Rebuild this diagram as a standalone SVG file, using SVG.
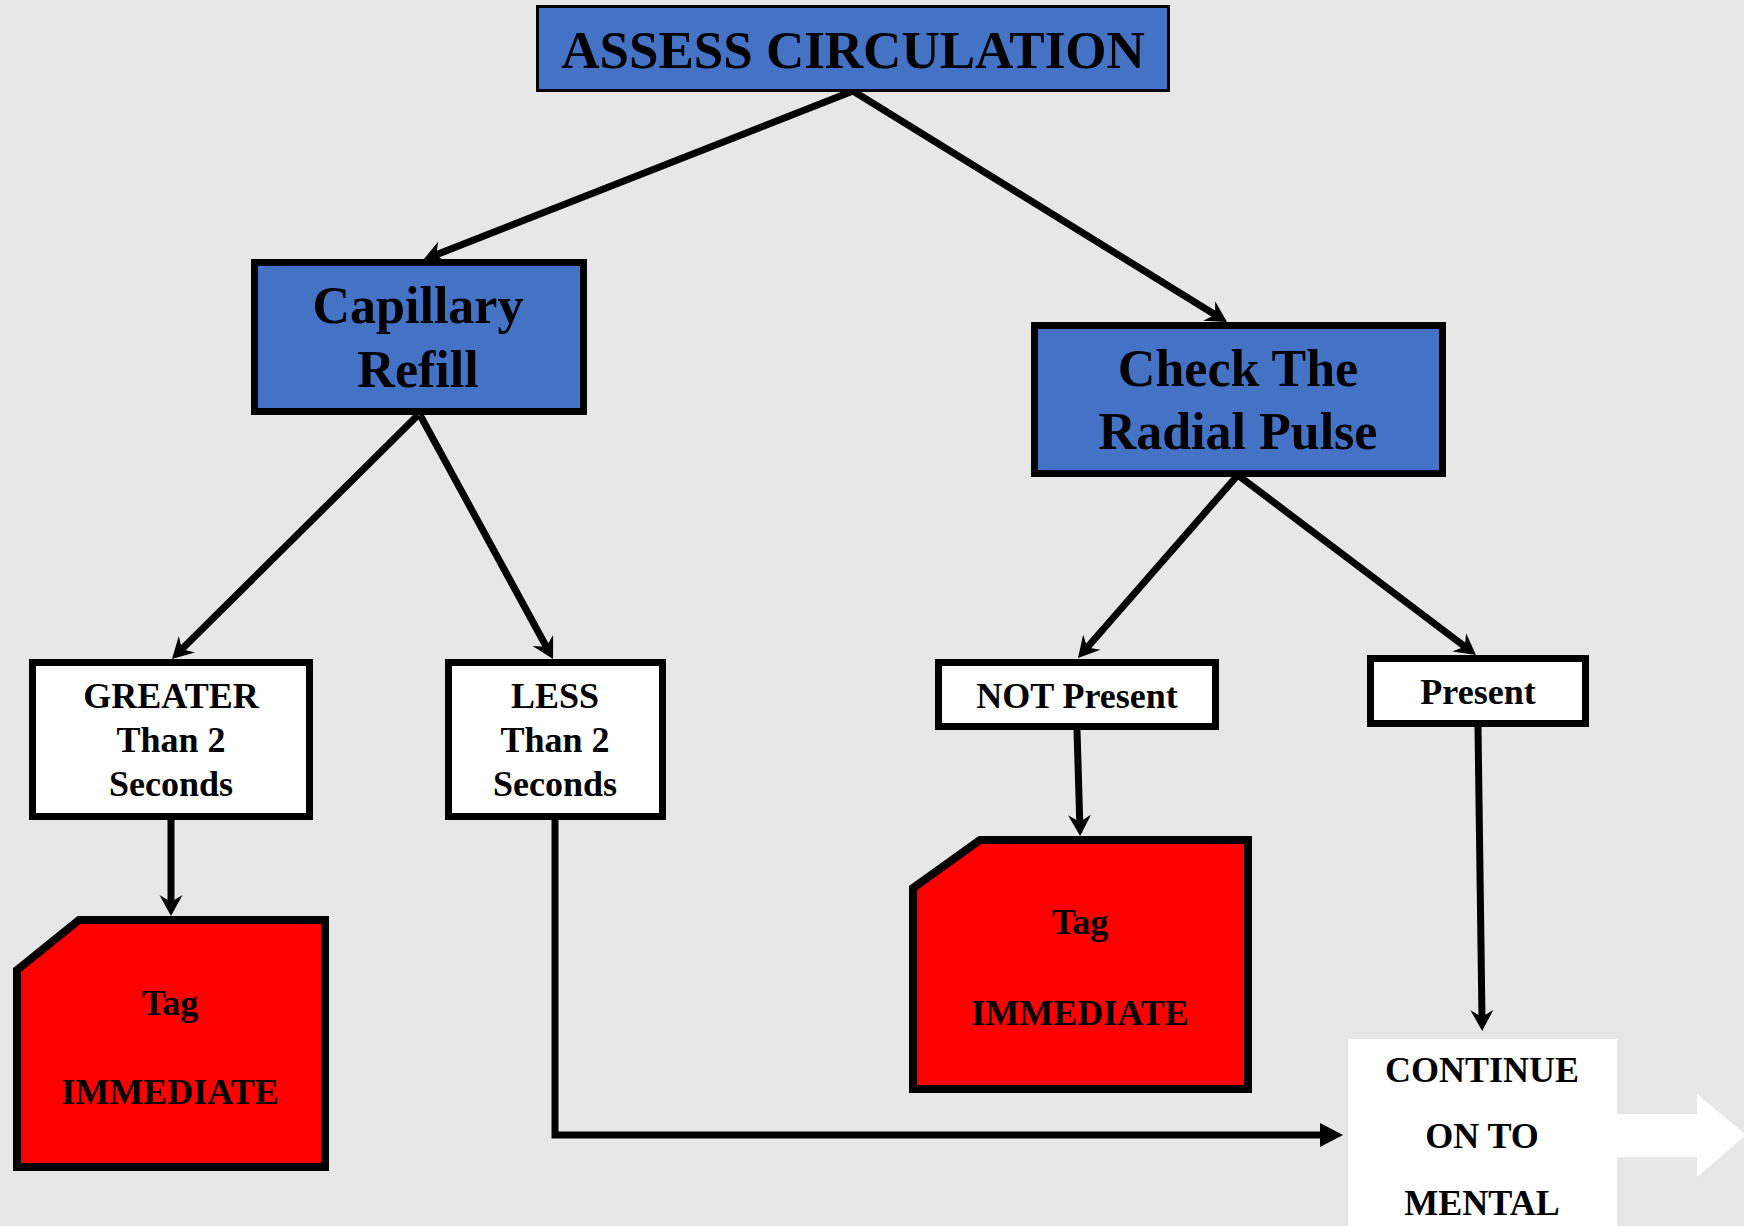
<svg xmlns="http://www.w3.org/2000/svg" width="1744" height="1226" viewBox="0 0 1744 1226">
<style>
.bg{fill:#E7E7E7}
.blue{fill:#4472C4;stroke:#000}
.white{fill:#FFFFFF;stroke:#000;stroke-width:7}
.red{fill:#FF0000;stroke:#000;stroke-width:8;stroke-linejoin:miter}
.t{font-family:"Liberation Serif","Times New Roman",serif;font-weight:bold;fill:#000;text-anchor:middle}
.big{font-size:52px}
.title{font-size:53px}
.sm{font-size:36px}
.conn{fill:none;stroke:#000;stroke-width:7}
</style>
<defs>
<marker id="stealth" markerUnits="userSpaceOnUse" viewBox="0 -12 22 24" markerWidth="22" markerHeight="24" refX="9" refY="0" orient="auto">
<path d="M21,0 L0,-11.5 L7,0 L0,11.5 Z" fill="#000"/>
</marker>
<marker id="tri" markerUnits="userSpaceOnUse" viewBox="0 -13 24 26" markerWidth="24" markerHeight="26" refX="5" refY="0" orient="auto">
<path d="M23,0 L0,-12 L0,12 Z" fill="#000"/>
</marker>
</defs>
<rect class="bg" x="0" y="0" width="1744" height="1226"/>

<g id="connectors">
<path class="conn" d="M853,91 L434.2,255.6" marker-end="url(#stealth)"/>
<path class="conn" d="M853,91 L1216.8,315.7" marker-end="url(#stealth)"/>
<path class="conn" d="M418,415 L180.5,650.6" marker-end="url(#stealth)"/>
<path class="conn" d="M420,415 L547.3,648.5" marker-end="url(#stealth)"/>
<path class="conn" d="M1237,476 L1085.9,649" marker-end="url(#stealth)"/>
<path class="conn" d="M1239,476 L1466.4,647.8" marker-end="url(#stealth)"/>
<path class="conn" d="M171,820 L171,904" marker-end="url(#stealth)"/>
<path class="conn" d="M1077,730 L1079.8,824" marker-end="url(#stealth)"/>
<path class="conn" d="M1478,727 L1482,1019" marker-end="url(#stealth)"/>
<path class="conn" d="M555,820 L555,1135 L1325,1135" marker-end="url(#tri)"/>
</g>

<g id="assess">
<rect class="blue" x="537.5" y="6.5" width="631" height="84" stroke-width="3"/>
<text class="t title" x="853" y="68">ASSESS CIRCULATION</text>
</g>

<g id="capillary">
<rect class="blue" x="254.5" y="262.5" width="329" height="149" stroke-width="7"/>
<text class="t big" x="418" y="323">Capillary</text>
<text class="t big" x="418" y="387">Refill</text>
</g>

<g id="radial">
<rect class="blue" x="1034.5" y="325.5" width="408" height="148" stroke-width="7"/>
<text class="t big" x="1238" y="386">Check The</text>
<text class="t big" x="1238" y="449">Radial Pulse</text>
</g>

<g id="greater">
<rect class="white" x="32.5" y="662.5" width="277" height="154"/>
<text class="t sm" x="171" y="708">GREATER</text>
<text class="t sm" x="171" y="752">Than 2</text>
<text class="t sm" x="171" y="796">Seconds</text>
</g>

<g id="less">
<rect class="white" x="448.5" y="662.5" width="214" height="154"/>
<text class="t sm" x="555" y="708">LESS</text>
<text class="t sm" x="555" y="752">Than 2</text>
<text class="t sm" x="555" y="796">Seconds</text>
</g>

<g id="notpresent">
<rect class="white" x="938.5" y="662.5" width="277" height="64"/>
<text class="t sm" x="1077" y="708">NOT Present</text>
</g>

<g id="present">
<rect class="white" x="1370.5" y="658.5" width="215" height="65"/>
<text class="t sm" x="1478" y="704">Present</text>
</g>

<g id="tag1">
<polygon class="red" points="17,970 79,920 325,920 325,1167 17,1167"/>
<text class="t sm" x="170" y="1015">Tag</text>
<text class="t sm" x="170" y="1104">IMMEDIATE</text>
</g>

<g id="tag2">
<polygon class="red" points="913,888 980,840 1248,840 1248,1089 913,1089"/>
<text class="t sm" x="1080" y="934">Tag</text>
<text class="t sm" x="1080" y="1025">IMMEDIATE</text>
</g>

<g id="continue">
<rect x="1348" y="1039" width="269" height="187" fill="#FFFFFF"/>
<polygon points="1617,1114 1697,1114 1697,1094 1746,1135 1697,1177 1697,1157 1617,1157" fill="#FFFFFF"/>
<text class="t sm" x="1482" y="1082">CONTINUE</text>
<text class="t sm" x="1482" y="1148">ON TO</text>
<text class="t sm" x="1482" y="1215">MENTAL</text>
</g>
</svg>
